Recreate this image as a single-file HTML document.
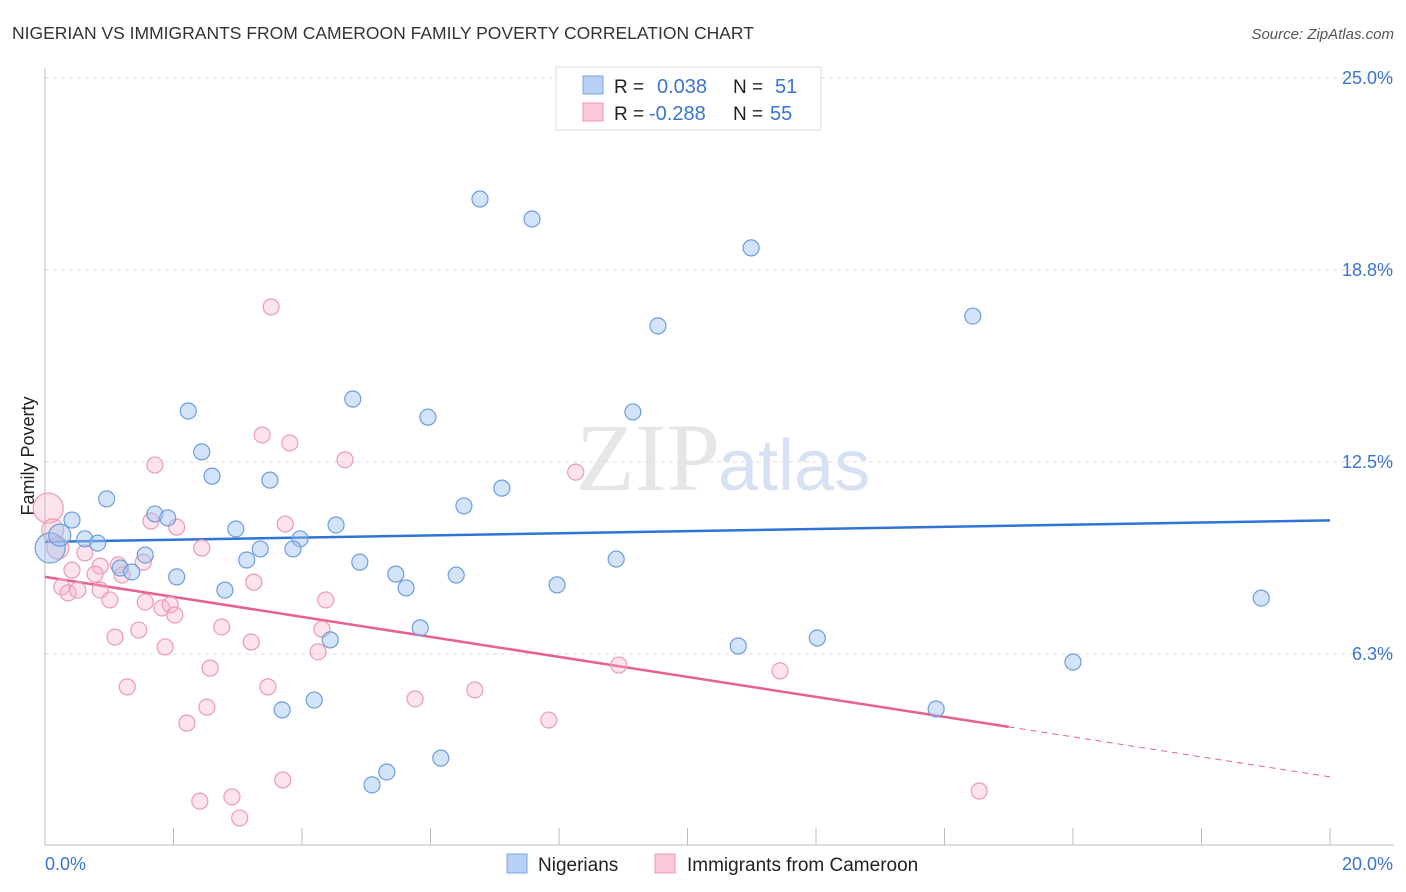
<!DOCTYPE html>
<html><head><meta charset="utf-8"><style>
body{margin:0;background:#fff;font-family:"Liberation Sans",sans-serif}
svg{display:block}
</style></head><body>
<svg id="chart" width="1406" height="892">
<text x="12" y="39" font-size="17.5" fill="#333">NIGERIAN VS IMMIGRANTS FROM CAMEROON FAMILY POVERTY CORRELATION CHART</text>
<text x="1394" y="39" font-size="15" fill="#555" font-style="italic" text-anchor="end">Source: ZipAtlas.com</text>
<text x="720" y="490" font-size="96" fill="#e6e6e6" text-anchor="end" font-family="Liberation Serif,serif">ZIP</text>
<text x="718" y="490" font-size="72" fill="#d6e2f3">atlas</text>
<text transform="translate(34,456) rotate(-90)" font-size="18" fill="#222" text-anchor="middle">Family Poverty</text>
<g id="grid"></g><g id="axes"></g><g id="lines"></g><g id="pts"></g>
<g>
<rect x="556" y="67" width="265" height="63" fill="#fff" stroke="#ddd"/>
<rect x="583" y="76" width="20" height="18" fill="#b7d0f3" stroke="#7aa6e0"/>
<rect x="583" y="103" width="20" height="18" fill="#fbc8d7" stroke="#ef9ab6"/>
<text x="614" y="93" font-size="19" fill="#222">R =</text><text x="657" y="93" font-size="20" fill="#3a74d0">0.038</text>
<text x="733" y="93" font-size="19" fill="#222">N =</text><text x="775" y="93" font-size="20" fill="#3a74d0">51</text>
<text x="614" y="120" font-size="19" fill="#222">R =</text><text x="649" y="120" font-size="20" fill="#3a74d0">-0.288</text>
<text x="733" y="120" font-size="19" fill="#222">N =</text><text x="770" y="120" font-size="20" fill="#3a74d0">55</text>
</g>
<g>
<rect x="507" y="854" width="20" height="19" fill="#b7d0f3" stroke="#7aa6e0"/>
<text x="538" y="871" font-size="19" fill="#222">Nigerians</text>
<rect x="655" y="854" width="20" height="19" fill="#fbc8d7" stroke="#ef9ab6"/>
<text x="687" y="871" font-size="19" fill="#222">Immigrants from Cameroon</text>
</g>
</svg>
<script>
const yTicks=[6.25,12.5,18.75,25];
const yTickLabels=["6.3%","12.5%","18.8%","25.0%"];
const xTicks=[0,2,4,6,8,10,12,14,16,18,20];
const xEndLabels=["0.0%","20.0%"];
const nigX=[6.77,7.58,10.99,9.54,14.44,4.79,2.23,5.96,9.15,2.44,2.60,3.50,7.11,0.96,6.52,0.42,1.71,1.91,2.97,4.53,0.62,0.82,3.97,3.35,3.86,1.56,3.14,4.90,8.89,1.17,1.35,2.05,5.46,6.40,5.62,7.97,2.80,18.93,5.84,4.44,10.79,12.02,16.0,4.19,3.69,13.87,5.32,6.16,5.09,0.08,0.23];
const nigY=[21.06,20.41,19.47,16.93,17.25,14.55,14.16,13.96,14.13,12.83,12.04,11.91,11.65,11.30,11.07,10.61,10.81,10.68,10.32,10.45,10.0,9.86,10.0,9.67,9.67,9.47,9.31,9.24,9.34,9.05,8.92,8.76,8.85,8.82,8.40,8.50,8.33,8.07,7.10,6.71,6.51,6.77,5.99,4.75,4.43,4.46,2.41,2.86,1.99,9.70,10.12];
const camX=[0.05,0.12,0.20,3.52,3.38,3.81,1.71,4.67,8.26,1.65,2.05,3.74,2.44,0.62,1.53,1.14,0.86,0.42,0.78,1.20,3.25,0.26,0.36,0.51,0.86,1.01,1.56,1.82,1.95,4.37,2.02,2.75,1.46,1.09,4.31,3.21,1.87,4.25,2.57,8.93,11.44,1.28,3.47,6.69,5.76,2.52,2.21,7.84,3.70,2.91,2.41,3.03,14.54];
const camY=[11.00,10.29,9.70,17.55,13.38,13.12,12.40,12.57,12.17,10.58,10.38,10.48,9.70,9.54,9.24,9.15,9.11,8.98,8.85,8.82,8.59,8.43,8.24,8.33,8.33,8.01,7.94,7.75,7.85,8.01,7.52,7.13,7.03,6.80,7.06,6.64,6.48,6.32,5.79,5.89,5.70,5.18,5.18,5.08,4.79,4.52,4.0,4.10,2.15,1.60,1.46,0.91,1.79];
const nigTrend=[9.90,10.60];
const camTrend=[8.76,2.25];
const camSolidEnd=15.0;
const NS="http://www.w3.org/2000/svg";
const X=v=>45+v*64.25, Y=v=>654-(v-6.25)*30.72;
function mk(tag,parent,attrs){const e=document.createElementNS(NS,tag);for(const k in attrs)e.setAttribute(k,attrs[k]);document.getElementById(parent).appendChild(e);return e;}
yTicks.forEach((t,i)=>{
 const l=mk('line','grid',{x1:45,x2:1394,y1:Y(t),y2:Y(t),stroke:'#ddd','stroke-dasharray':'4,4'});
 
 
 const tx=mk('text','grid',{x:1393,y:Y(t)+6,'font-size':18,fill:'#3a74d0','text-anchor':'end'});tx.textContent=yTickLabels[i];
 
 
});
const ax=mk('line','axes',{x1:45,x2:45,y1:68,y2:845,stroke:'#bbb'});


const bx=mk('line','axes',{x1:45,x2:1394,y1:845,y2:845,stroke:'#bbb'});


xTicks.forEach(t=>{const l=mk('line','axes',{x1:X(t),x2:X(t),y1:828,y2:845,stroke:'#bbb'});
 
 });
const xl0=mk('text','axes',{x:45,y:870,'font-size':18,fill:'#3a74d0'});xl0.textContent=xEndLabels[0];


const xl1=mk('text','axes',{x:1393,y:870,'font-size':18,fill:'#3a74d0','text-anchor':'end'});xl1.textContent=xEndLabels[1];


function pts(xs,ys,fill,stroke,name){xs.forEach((x,i)=>{const big=(x<0.25&&i<3)||(name==='nigerian-point'&&i>=49);
 const c=mk('circle','pts',{cx:X(x),cy:Y(ys[i]),r:big?(x<0.1?15:11):8,fill:fill,stroke:stroke,'stroke-width':1.2});
 
 });}
pts(camX,camY,'rgba(248,176,198,0.35)','#ec9ab6','cameroon-point');
pts(nigX,nigY,'rgba(160,195,240,0.45)','#6d9ddd','nigerian-point');
const tl1=mk('line','lines',{x1:X(0),y1:Y(nigTrend[0]),x2:X(20),y2:Y(nigTrend[1]),stroke:'#2f73d6','stroke-width':2.5});


const cy=v=>camTrend[0]+(camTrend[1]-camTrend[0])*v/20;
const tl2=mk('line','lines',{x1:X(0),y1:Y(cy(0)),x2:X(camSolidEnd),y2:Y(cy(camSolidEnd)),stroke:'#e8608e','stroke-width':2.5});


const tl3=mk('line','lines',{x1:X(camSolidEnd),y1:Y(cy(camSolidEnd)),x2:X(20),y2:Y(cy(20)),stroke:'#e8608e','stroke-width':1,'stroke-dasharray':'6,5'});


</script>
</body></html>
